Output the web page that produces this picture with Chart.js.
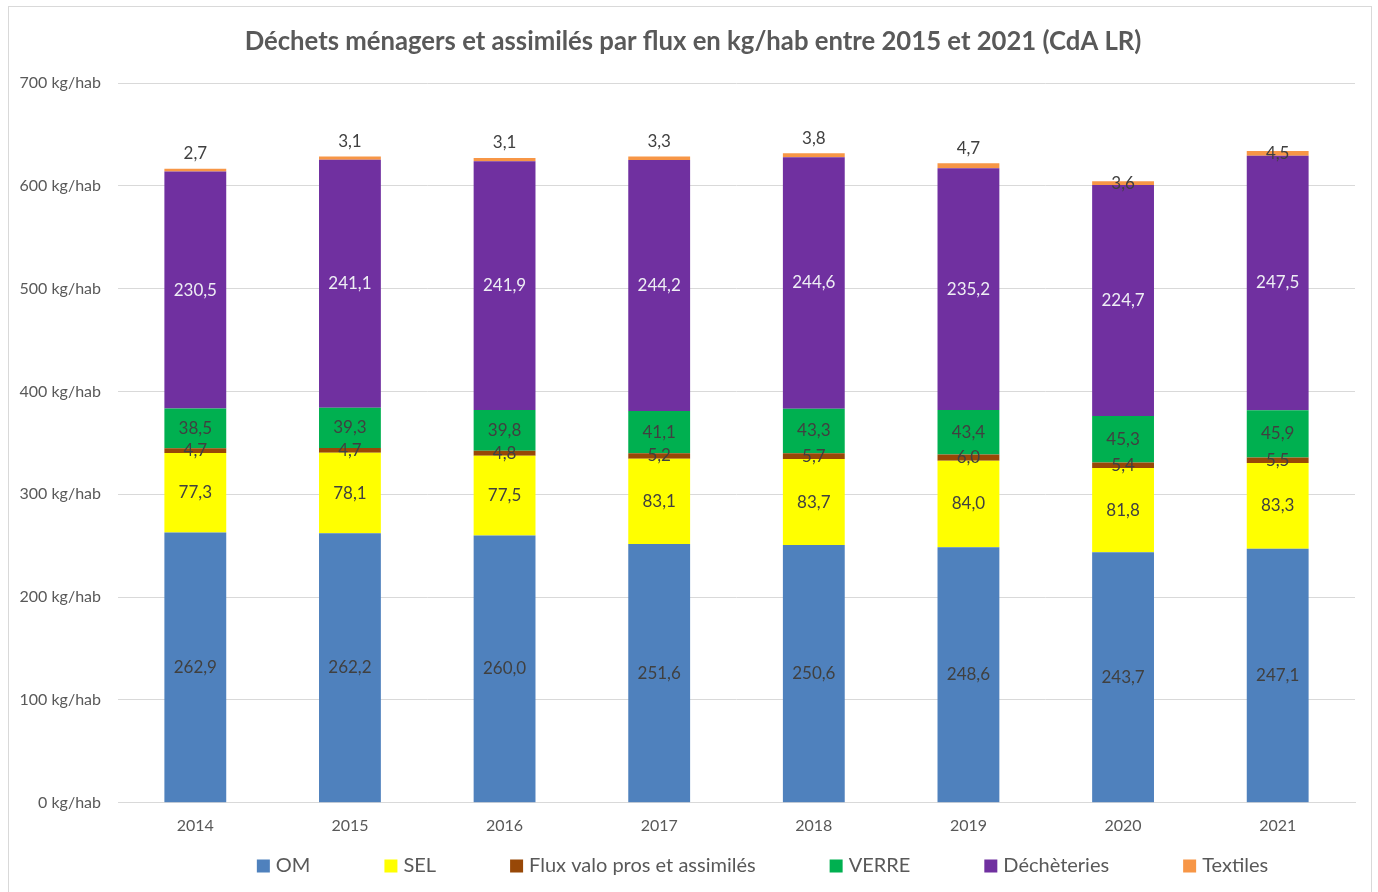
<!DOCTYPE html>
<html>
<head>
<meta charset="utf-8">
<script src="https://cdn.jsdelivr.net/npm/chart.js@4.4.0/dist/chart.umd.min.js"></script>
<style>
  html, body { margin: 0; padding: 0; background: #fff; }
  #frame { position: absolute; left: 8px; top: 6px; width: 1364px; height: 900px; border: 1px solid #d9d9d9; box-sizing: border-box; }
  #wrap { position: absolute; left: 0; top: 0; width: 1378px; height: 892px; }
</style>
</head>
<body>
<div id="frame"></div>
<div id="wrap"><canvas id="c" width="1378" height="892"></canvas></div>
<script>
const categories = ['2014', '2015', '2016', '2017', '2018', '2019', '2020', '2021'];
const seriesNames = ['OM', 'SEL', 'Flux valo pros et assimilés', 'VERRE', 'Déchèteries', 'Textiles'];
const om = [262.9, 262.2, 260.0, 251.6, 250.6, 248.6, 243.7, 247.1];
const sel = [77.3, 78.1, 77.5, 83.1, 83.7, 84.0, 81.8, 83.3];
const fluxValo = [4.7, 4.7, 4.8, 5.2, 5.7, 6.0, 5.4, 5.5];
const verre = [38.5, 39.3, 39.8, 41.1, 43.3, 43.4, 45.3, 45.9];
const decheteries = [230.5, 241.1, 241.9, 244.2, 244.6, 235.2, 224.7, 247.5];
const textiles = [2.7, 3.1, 3.1, 3.3, 3.8, 4.7, 3.6, 4.5];
const yTicks = [0, 100, 200, 300, 400, 500, 600, 700];
const titleText = 'Déchets ménagers et assimilés par flux en kg/hab entre 2015 et 2021 (CdA LR)';

const colors = ['#4F81BD', '#FFFF00', '#984807', '#00B050', '#7030A0', '#F79646'];
const labelColors = ['#404040', '#404040', '#404040', '#404040', '#EEEEF4', '#404040'];
const values = [om, sel, fluxValo, verre, decheteries, textiles];
const FONT = 'Lato, "Open Sans", sans-serif';
const TXT = '#595959';

const fmt = v => v.toFixed(1).replace('.', ',');

const titlePlugin = {
  id: 'topTitle',
  afterDraw(chart) {
    const ctx = chart.ctx;
    ctx.save();
    ctx.font = 'bold 25.7px ' + FONT;
    ctx.fillStyle = TXT;
    ctx.textAlign = 'center';
    ctx.textBaseline = 'middle';
    ctx.fillText(titleText, chart.width / 2 + 4, 42);
    ctx.restore();
  }
};

const labelPlugin = {
  id: 'segLabels',
  afterDatasetsDraw(chart) {
    const ctx = chart.ctx;
    ctx.save();
    ctx.font = '17px ' + FONT;
    ctx.textAlign = 'center';
    ctx.textBaseline = 'middle';
    chart.data.datasets.forEach((ds, di) => {
      const meta = chart.getDatasetMeta(di);
      ctx.fillStyle = labelColors[di];
      meta.data.forEach((bar, i) => {
        const v = ds.data[i];
        let y = (bar.y + bar.base) / 2;
        if (di === 5 && i < 6) y = bar.y - 15;
        ctx.fillText(fmt(v), bar.x, y);
      });
    });
    ctx.restore();
  }
};

const legendPlugin = {
  id: 'bottomLegend',
  afterDraw(chart) {
    const ctx = chart.ctx;
    ctx.save();
    ctx.font = '20px ' + FONT;
    ctx.textBaseline = 'middle';
    const box = 13, gapText = 6, gapItem = 74;
    const items = chart.data.datasets.map(ds => ({ label: ds.label, color: ds.backgroundColor, w: box + gapText + ctx.measureText(ds.label).width }));
    const total = items.reduce((s, it) => s + it.w, 0) + gapItem * (items.length - 1);
    let x = (chart.chartArea.left + chart.chartArea.right) / 2 + 26 - total / 2;
    const y = 866;
    items.forEach(it => {
      ctx.fillStyle = it.color;
      ctx.fillRect(x, y - box / 2, box, box);
      ctx.fillStyle = TXT;
      ctx.textAlign = 'left';
      ctx.fillText(it.label, x + box + gapText, y);
      x += it.w + gapItem;
    });
    ctx.restore();
  }
};

new Chart(document.getElementById('c'), {
  type: 'bar',
  data: {
    labels: categories,
    datasets: seriesNames.map((n, k) => ({
      label: n,
      data: values[k],
      backgroundColor: colors[k],
      borderWidth: 0,
      barPercentage: 0.4,
      categoryPercentage: 1.0
    }))
  },
  options: {
    responsive: false,
    animation: false,
    layout: { padding: { left: 0, right: 23, top: 83, bottom: 44 } },
    plugins: {
      legend: { display: false },
      tooltip: { enabled: false },
      title: { display: false }
    },
    scales: {
      x: {
        stacked: true,
        grid: { display: false, drawTicks: false },
        border: { display: true, color: '#d9d9d9' },
        ticks: { color: TXT, font: { family: FONT, size: 16 }, padding: 13 }
      },
      y: {
        stacked: true,
        min: 0,
        max: 700,
        afterBuildTicks: s => { s.ticks = yTicks.map(v => ({ value: v })); },
        afterFit: s => { s.width = 118; },
        grid: { color: '#d9d9d9', drawTicks: false },
        border: { display: false },
        ticks: { color: TXT, font: { family: FONT, size: 16 }, padding: 17, callback: v => v + ' kg/hab' }
      }
    }
  },
  plugins: [titlePlugin, labelPlugin, legendPlugin]
});
</script>
</body>
</html>
